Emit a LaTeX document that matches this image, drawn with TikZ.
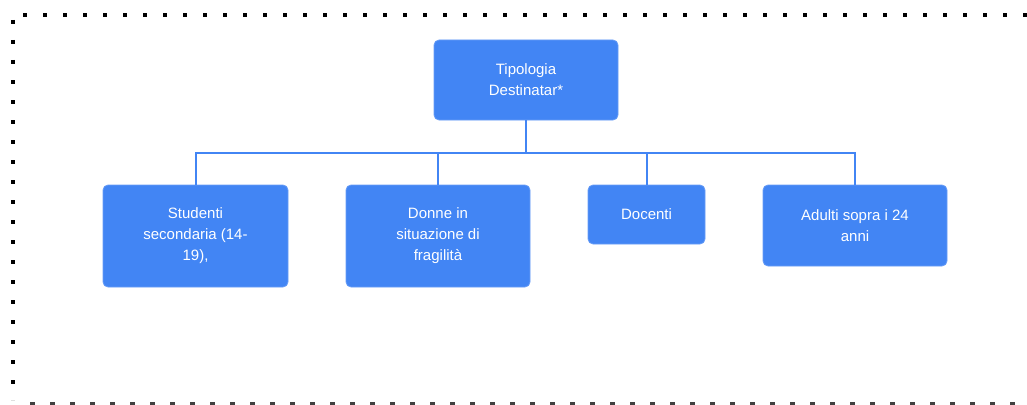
\documentclass[tikz,border=0pt]{standalone}
\usepackage{fontspec}
\setmainfont{Liberation Sans}
\definecolor{gblue}{HTML}{4285F4}
\begin{document}
\begin{tikzpicture}[x=1pt,y=-1pt,
  box/.style={fill=gblue,draw=gblue!80!white,line width=0.8pt,rounded corners=5pt,
    text=white,align=center,font=\fontsize{15}{21}\selectfont,inner sep=0pt},
  link/.style={draw=gblue,line width=2pt},
  dotline/.style={line width=4pt,dash pattern=on 4pt off 16pt}]
\useasboundingbox (0,0) rectangle (1027,404);
% frame
\draw[dotline] (23,15) -- (1030,15);
\draw[dotline] (12.5,20) -- (12.5,400);
\draw[line width=4pt,dash pattern=on 5pt off 15pt,black!75] (30,403.5) -- (1030,403.5);
% nodes
\node[box,minimum width=184pt,minimum height=80pt] (top) at (526,80) {Tipologia\\Destinatar*};
\node[box,minimum width=185pt,minimum height=102pt] (stu) at (195.5,236) {Studenti\\secondaria (14-\\19),};
\node[box,minimum width=184pt,minimum height=102pt] (don) at (438,236) {Donne in\\situazione di\\fragilità};
\node[box,minimum width=117pt,minimum height=59pt] (doc) at (646.5,214.5) {Docenti};
\node[box,minimum width=184pt,minimum height=81pt] (adu) at (855,225.5) {Adulti sopra i 24\\anni};
% connectors
\coordinate (bus) at (526,153);
\draw[link] (top.south) -- (bus);
\draw[link] (bus) -| (stu.north);
\draw[link] (bus) -| (don.north);
\draw[link] (bus) -| (doc.north);
\draw[link] (bus) -| (adu.north);
\end{tikzpicture}
\end{document}
